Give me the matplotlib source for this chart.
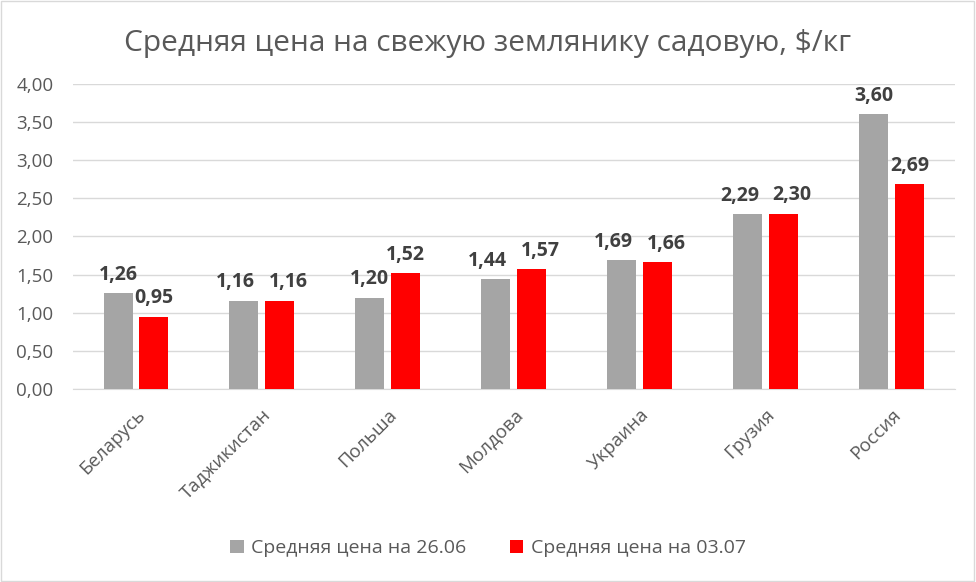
import numpy as np
import matplotlib.pyplot as plt
from matplotlib.patches import Rectangle

plt.rcParams['font.family'] = ['Open Sans', 'DejaVu Sans']

countries = ['Беларусь', 'Таджикистан', 'Польша', 'Молдова', 'Украина', 'Грузия', 'Россия']
price_2606 = [1.26, 1.16, 1.20, 1.44, 1.69, 2.29, 3.60]
price_0307 = [0.95, 1.16, 1.52, 1.57, 1.66, 2.30, 2.69]
yticks = [0, 0.5, 1, 1.5, 2, 2.5, 3, 3.5, 4]

def fmt(v):
    return f"{v:.2f}".replace('.', ',')

fig = plt.figure(figsize=(9.76, 5.82), dpi=100)
ax = fig.add_axes([0.0748, 0.3316, 0.9032, 0.5241])

x = np.arange(len(countries))
w = 0.23
gap = 0.055
off = (w + gap) / 2
b1 = ax.bar(x - off, price_2606, w, color='#A5A5A5', label='Средняя цена на 26.06', zorder=3)
b2 = ax.bar(x + off, price_0307, w, color='#FF0000', label='Средняя цена на 03.07', zorder=3)

# labels of neighbouring bars get pushed apart when they would collide (like Excel)
for r1, r2, v1, v2 in zip(b1, b2, price_2606, price_0307):
    shift = 6 if abs(v1 - v2) < 0.25 else 0
    for r, v, dx in ((r1, v1, -shift), (r2, v2, shift)):
        ax.annotate(fmt(v), (r.get_x() + r.get_width() / 2, v), xytext=(dx, 6),
                    textcoords='offset points', ha='center', va='bottom',
                    fontsize=14, fontweight='bold', color='#404040')

ax.set_xlim(-0.5, len(countries) - 0.5)
ax.set_ylim(0, 4)
ax.set_yticks(yticks)
ax.set_yticklabels([fmt(v) for v in yticks], fontsize=13.5, color='#595959')
ax.set_xticks(x)
ax.set_xticklabels(countries, rotation=45, ha='right', rotation_mode='anchor',
                   fontsize=13.5, color='#595959')
ax.tick_params(axis='y', length=0, pad=14)
ax.tick_params(axis='x', length=0, pad=12)
ax.grid(axis='y', color='#D9D9D9', linewidth=1, zorder=0)
for s in ['top', 'right', 'left']:
    ax.spines[s].set_visible(False)
ax.spines['bottom'].set_color('#D9D9D9')

fig.text(0.5, 0.925, 'Средняя цена на свежую землянику садовую, $/кг', ha='center',
         va='center', fontsize=21.5, color='#595959')

fig.legend(loc='center', bbox_to_anchor=(0.5, 0.058), ncol=2, frameon=False,
           fontsize=14, handlelength=0.7, handleheight=0.7, columnspacing=2.2,
           handletextpad=0.4, labelcolor='#595959')

fig.patches.append(Rectangle((0.001, 0.001), 0.997, 0.997, transform=fig.transFigure,
                             fill=False, edgecolor='#D9D9D9', linewidth=1))

fig.savefig('out.png', dpi=100)
